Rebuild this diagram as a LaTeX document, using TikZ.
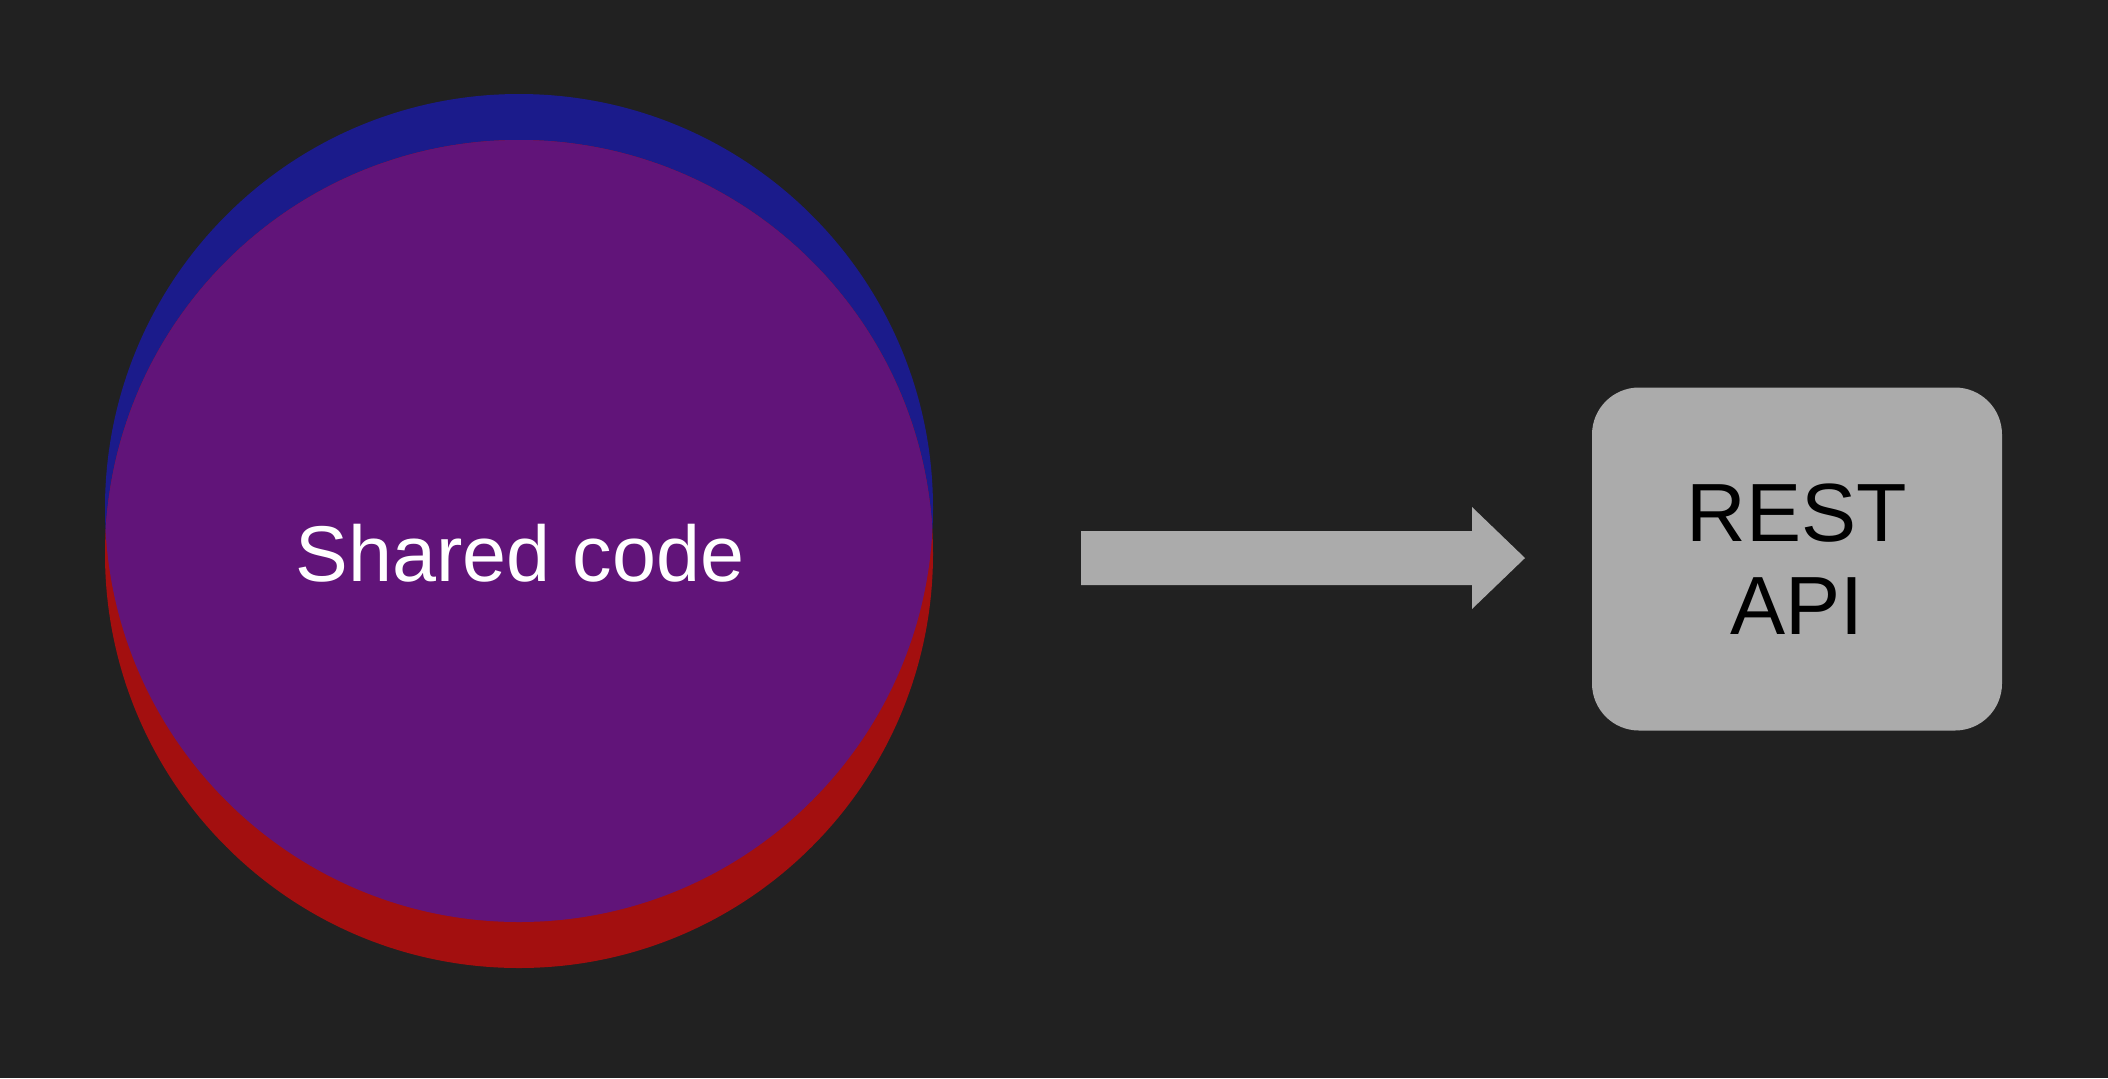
\documentclass[tikz,border=0pt]{standalone}
\usepackage{fontspec}
\setmainfont{Liberation Sans}

\definecolor{bgdark}{HTML}{212121}
\definecolor{setblue}{HTML}{1B1B8B}
\definecolor{setred}{HTML}{A30F0F}
\definecolor{setpurple}{HTML}{611479}
\definecolor{boxgray}{HTML}{ABABAB}

\begin{document}
\begin{tikzpicture}[x=0.1mm, y=-0.1mm,
  label/.style={font=\fontsize{22.5}{26.5}\selectfont},
  apibox/.style={fill=boxgray, rounded corners=4.7mm, minimum width=41mm, minimum height=34.3mm, inner sep=0pt, align=center, font=\fontsize{23.5}{26.5}\selectfont}]
\fill[bgdark] (0,0) rectangle (2108,1078);
\useasboundingbox (0,0) rectangle (2108,1078);

\fill[setblue] (519,508) circle (414);
\fill[setred] (519,554) circle (414);
% overlap of the two
\begin{scope}
\clip (519,508) circle (414);
\fill[setpurple] (519,554) circle (414);
\end{scope}

\node[label, text=white, anchor=base] (shared) at (520,581) {Shared code};

\node[apibox] (api) at (1797,559) {REST\\API};

\coordinate (arrowtail) at (1081,558);
\coordinate (arrowtip) at (1525,558);
\fill[boxgray] (arrowtail) ++(0,-27) -- ++(391,0) -- ++(0,-24) -- (arrowtip)
  -- ++(-53,51) -- ++(0,-24) -- ++(-391,0) -- cycle;

\end{tikzpicture}
\end{document}
